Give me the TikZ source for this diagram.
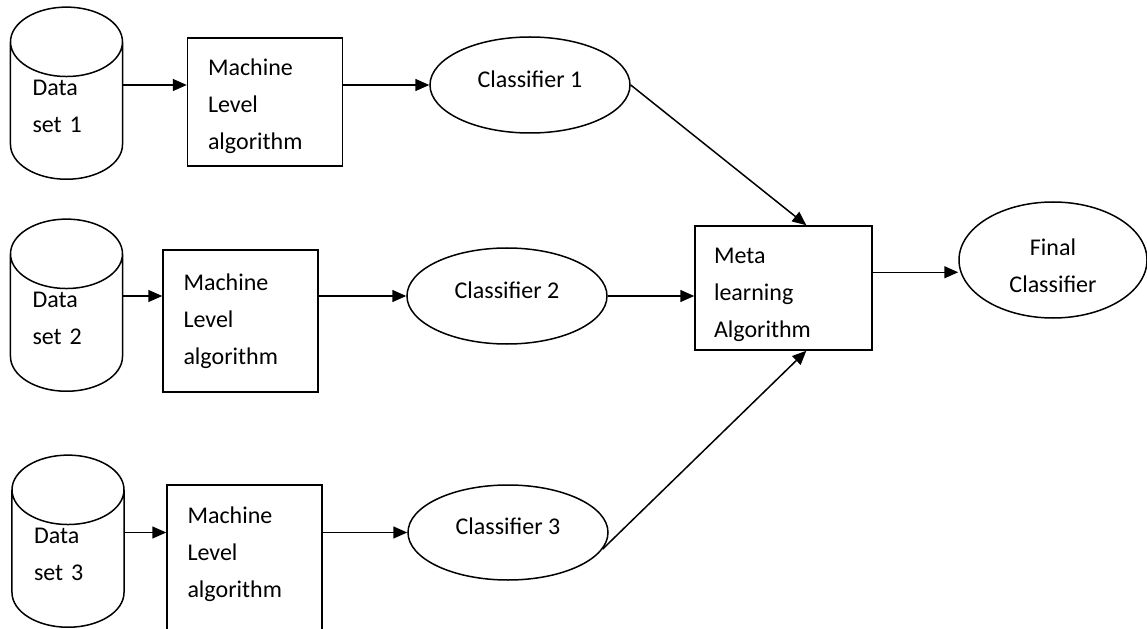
\documentclass[tikz,border=0pt]{standalone}
\usepackage{fontspec}
\setmainfont{Carlito}
\usetikzlibrary{shapes.geometric,arrows.meta}

\tikzset{
  txt/.style={font=\fontsize{24bp}{37bp}\selectfont},
  store/.style={txt,draw,line width=1.5bp,shape=cylinder,shape border rotate=90,aspect=0.93,
    minimum width=112bp,minimum height=140bp,text width=68bp,align=left,text depth=57bp,anchor=bottom},
  algo/.style={txt,draw,line width=1.5bp,rectangle,minimum width=155bp,text width=114bp,align=left},
  clf/.style={txt,draw,line width=1.5bp,ellipse,minimum width=200bp,minimum height=96bp,inner sep=0pt,text depth=12bp},
  flow/.style={line width=1.5bp,-{Triangle[length=14bp,width=12bp]}}
}

\begin{document}
\begin{tikzpicture}[x=1bp,y=-1bp]
\useasboundingbox (0,0) rectangle (1147,629);
\clip (0,0) rectangle (1147,629);

\node[store] (data1) at (66.5,180) {Data\\set 1};
\node[store] (data2) at (66.5,392) {Data\\set 2};
\node[store] (data3) at (68,628) {Data\\set 3};

\node[algo,minimum height=128bp,text height=25bp] (mla1) at (265,102) {Machine\\Level\\algorithm};
\node[algo,minimum height=142bp] (mla2) at (240.5,321) {Machine\\Level\\algorithm};
\node[algo,minimum height=150bp,text depth=90bp] (mla3) at (244.5,560) {Machine\\Level\\algorithm};

\node[clf] (cls1) at (530,85) {Classifier 1};
\node[clf] (cls2) at (507,296) {Classifier 2};
\node[clf,minimum height=95bp] (cls3) at (508,532.5) {Classifier 3};

\node[algo,minimum width=177bp,minimum height=124bp,text width=139bp,text height=29bp] (meta) at (783.5,288) {Meta\\learning\\Algorithm};
\node[clf,minimum width=188bp,minimum height=116bp,align=center,text depth=0bp,text height=65bp] (final) at (1053,260) {Final\\Classifier};

\draw[flow] (data1.east |- cls1) -- (mla1.west |- cls1);
\draw[flow] (data2.east |- cls2) -- (mla2.west |- cls2);
\draw[flow] (data3.east |- cls3) -- (mla3.west |- cls3);

\draw[flow] (mla1.east |- cls1) -- (cls1.west);
\draw[flow] (mla2.east |- cls2) -- (cls2.west);
\draw[flow] (mla3.east |- cls3) -- (cls3.west);

\draw[flow] (cls1.east) -- (meta.70);
\draw[flow] (cls2.east) -- (meta.west |- cls2);
\draw[flow] (cls3.-10) -- (meta.-70);

\draw[flow] (meta.10) -- (meta.10 -| final.west);

\end{tikzpicture}
\end{document}
